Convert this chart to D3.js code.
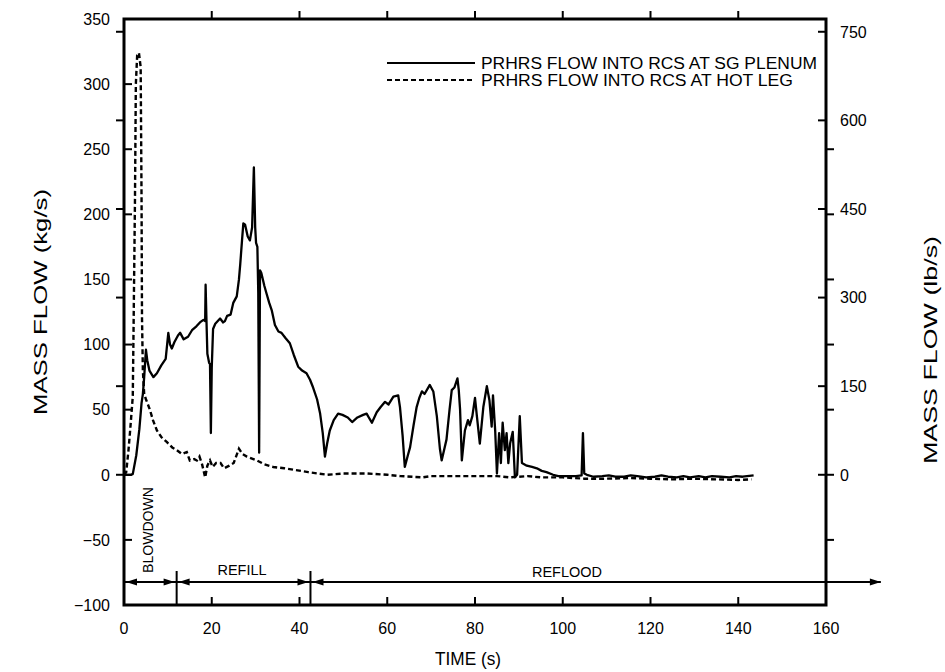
<!DOCTYPE html>
<html>
<head>
<meta charset="utf-8">
<script src="https://cdn.jsdelivr.net/npm/d3@7"></script>
<style>
  body { margin: 0; background: #fff; }
  text { font-family: "Liberation Sans", Arial, sans-serif; fill: #000; }
</style>
</head>
<body>
<svg id="chart" width="945" height="672"></svg>
<script>
// SG plenum flow (kg/s) vs time (s)
const sgTime = [0,1.5,2.0,2.8,3.5,4.0,4.3,4.6,5.0,5.3,5.8,6.7,7.5,8.5,9.5,10.1,10.5,10.9,11.5,12.3,12.8,13.6,14.6,15.5,16.5,17.3,18.1,18.5,18.6,18.8,19.0,19.4,19.6,19.8,20.0,20.3,20.8,21.9,22.6,23.0,23.5,24.3,24.9,25.7,26.2,26.5,26.9,27.2,27.6,28.2,28.7,29.2,29.6,29.9,30.1,30.4,30.6,30.8,31.0,31.3,32.0,32.5,33.1,33.7,34.4,35.2,35.9,36.8,37.8,38.7,39.7,40.6,41.6,42.4,43.1,44.0,44.7,45.3,45.8,46.3,46.9,47.8,48.8,49.8,51.0,52.0,53.2,54.5,55.3,55.8,56.5,57.6,58.5,59.5,60.3,61.4,62.5,62.9,63.5,64.0,64.7,65.2,66.0,66.7,67.3,67.9,68.5,69.7,70.5,71.3,72.0,72.4,73.5,74.2,74.7,75.3,76.0,76.3,76.6,77.0,77.7,78.4,78.8,79.4,80.0,80.4,81.1,81.5,81.9,82.7,83.3,83.8,84.1,84.6,85.0,85.5,85.9,86.3,86.8,87.2,87.6,88.0,88.6,89.1,89.6,90.2,90.7,91.8,93.0,94.1,95.2,96.3,97.8,99,101,103,104.3,104.6,104.9,105.5,107,109,110.5,112,114,115.5,117,119,121,122.5,124,126,127.5,129,131,132.5,134,136,138,139.5,141,143.5];
const sgFlow = [0,0,0.5,15,35,55,62,75,96,88,80,75,78,84,89,109,100,97,102,107,109,104,106,111,114,117,119,118,146,118,93,86,85,32,82,112,116,120,117,118,122,123,132,137,150,162,180,193,192,183,180,190,236,190,178,175,140,17,157,155,145,139,132,126,115,110,109,105,101,92,83,80,78,73,67,58,47,32,14,24,34,42,47,46,44,40.5,44,46,47,44,40,48,52,56,54,60,61,52,30,6,15,21,38,52,59,64,62,69,64,45,20,11,27,50,65,67,74,65,50,11,34,42,38,45,59,46,24,38,52,68,57,37,61,34,1,32,9,40,19,32,9,24,33,-2,0,45,9,7,6,5,3,2,0,-1,-1,-1,-0.5,32,1,0,-1.5,-1,-0.5,-1.5,-1.5,-0.5,-1,-2,-1.5,-0.5,-1.5,-2,-1,-2,-1,-2,-1,-1.5,-2,-1,-1.5,-0.5];

// hot leg flow (kg/s) vs time (s)
const hlTime = [0,0.5,1.0,1.4,2.0,2.2,2.5,2.7,3.0,3.4,3.8,4.0,4.1,4.3,4.6,5.0,5.9,6.6,7.5,8.5,9.8,11.0,12.0,13.2,14.3,15.0,16.0,16.6,17.2,17.8,18.5,19.0,19.6,20.2,21.0,22.0,22.8,24.0,25.0,26.2,27.0,28.0,30.3,32.0,34.0,36.5,38.5,42,46.3,50,55.4,60,63,68,70,75,80,85,88,92,95,100,105,110,115,120,125,130,135,140,143];
const hlFlow = [0,2,18,34,60,119,211,300,322,324,313,211,121,80,62,58,50,42,34,29,25,21,19,16,17.5,11,12,11,14,8,-2,7,11,6,9,9,5,7,9,20,16,14,11,8,6,5,4,2,0,1,1,0,-1,-2,-1,-1,-1,-1,-2,-1,-2,-2,-3,-3,-2.5,-3,-3.5,-3,-3.5,-4,-3.5];

const xTicks = [0,20,40,60,80,100,120,140,160];
const kgTicks = [-100,-50,0,50,100,150,200,250,300,350];
const lbTicks = [0,150,300,450,600,750];
const legendNames = ['PRHRS FLOW INTO RCS AT SG PLENUM', 'PRHRS FLOW INTO RCS AT HOT LEG'];
const phaseNames = ['BLOWDOWN', 'REFILL', 'REFLOOD'];
const phaseBounds = [0, 12, 42.5, 172.5];

const KG_PER_LB = 0.45359;
const plotL = 124, plotR = 826, plotT = 19, plotB = 605;

const svg = d3.select('#chart');
const x = d3.scaleLinear().domain([0, 160]).range([plotL, plotR]);
const y = d3.scaleLinear().domain([-100, 350]).range([plotB, plotT]);
const yLb = d3.scaleLinear().domain([-100 / KG_PER_LB, 350 / KG_PER_LB]).range([plotB, plotT]);

const g = svg.append('g');

// tick marks: kg inward / lb outward on the left, the other way on the right
function ticks(vals, scale, x0, len) {
  g.selectAll(null).data(vals).enter().append('line')
    .attr('x1', x0).attr('x2', x0 + len)
    .attr('y1', d => scale(d)).attr('y2', d => scale(d))
    .attr('stroke', '#000').attr('stroke-width', 2);
}
ticks(kgTicks.slice(1, -1), y, plotL, 8);
ticks(lbTicks, yLb, plotL, -8);
ticks(lbTicks, yLb, plotR, -8);
ticks(kgTicks.slice(1, -2), y, plotR, 8);

g.selectAll(null).data(xTicks.slice(1, -1)).enter().append('line')
  .attr('x1', d => x(d)).attr('x2', d => x(d))
  .attr('y1', plotB).attr('y2', plotB - 8)
  .attr('stroke', '#000').attr('stroke-width', 2);
g.selectAll(null).data(xTicks.slice(1, -1)).enter().append('line')
  .attr('x1', d => x(d)).attr('x2', d => x(d))
  .attr('y1', plotT).attr('y2', plotT - 8)
  .attr('stroke', '#000').attr('stroke-width', 2);

// frame
g.append('rect')
  .attr('x', plotL).attr('y', plotT)
  .attr('width', plotR - plotL).attr('height', plotB - plotT)
  .attr('fill', 'none').attr('stroke', '#000').attr('stroke-width', 3);

// tick labels
g.selectAll(null).data(kgTicks).enter().append('text')
  .attr('x', plotL - 14).attr('y', d => y(d)).attr('dy', '0.36em')
  .attr('text-anchor', 'end').attr('font-size', 16)
  .text(d => d < 0 ? '\u2212' + Math.abs(d) : d);
g.selectAll(null).data(lbTicks).enter().append('text')
  .attr('x', plotR + 14).attr('y', d => yLb(d)).attr('dy', '0.36em')
  .attr('font-size', 16)
  .text(d => d);
g.selectAll(null).data(xTicks).enter().append('text')
  .attr('x', d => x(d)).attr('y', plotB + 29)
  .attr('text-anchor', 'middle').attr('font-size', 16)
  .text(d => d);

// axis titles
g.append('text')
  .attr('transform', 'translate(47,302) rotate(-90)')
  .attr('text-anchor', 'middle').attr('font-size', 19)
  .attr('textLength', 226).attr('lengthAdjust', 'spacingAndGlyphs')
  .text('MASS FLOW (kg/s)');
g.append('text')
  .attr('transform', 'translate(937,350) rotate(-90)')
  .attr('text-anchor', 'middle').attr('font-size', 19)
  .attr('textLength', 228).attr('lengthAdjust', 'spacingAndGlyphs')
  .text('MASS FLOW (lb/s)');
g.append('text')
  .attr('x', 468).attr('y', 665)
  .attr('text-anchor', 'middle').attr('font-size', 19)
  .attr('textLength', 66).attr('lengthAdjust', 'spacingAndGlyphs')
  .text('TIME (s)');

// curves
const line = d3.line().x(d => x(d[0])).y(d => y(d[1]));
g.append('path')
  .attr('d', line(d3.zip(sgTime, sgFlow)))
  .attr('fill', 'none').attr('stroke', '#000').attr('stroke-width', 2.3)
  .attr('stroke-linejoin', 'round');
g.append('path')
  .attr('d', line(d3.zip(hlTime, hlFlow)))
  .attr('fill', 'none').attr('stroke', '#000').attr('stroke-width', 2.4)
  .attr('stroke-dasharray', '5,3');

// legend
const dashes = ['none', '5,3'];
legendNames.forEach(function (name, i) {
  const ly = 63 + i * 17;
  g.append('line')
    .attr('x1', 387).attr('x2', 475).attr('y1', ly).attr('y2', ly)
    .attr('stroke', '#000').attr('stroke-width', 2)
    .attr('stroke-dasharray', dashes[i]);
  g.append('text')
    .attr('x', 481).attr('y', ly).attr('dy', '0.36em')
    .attr('font-size', 16)
    .attr('textLength', i === 0 ? 336 : 312).attr('lengthAdjust', 'spacingAndGlyphs')
    .text(name);
});

// phase arrows
const ay = 582;
g.append('line')
  .attr('x1', x(phaseBounds[0])).attr('x2', x(phaseBounds[3]))
  .attr('y1', ay).attr('y2', ay)
  .attr('stroke', '#000').attr('stroke-width', 1.8);
[phaseBounds[1], phaseBounds[2]].forEach(function (t) {
  g.append('line')
    .attr('x1', x(t)).attr('x2', x(t))
    .attr('y1', ay - 11).attr('y2', plotB)
    .attr('stroke', '#000').attr('stroke-width', 2);
});
function arrow(tip, dir) {
  g.append('path')
    .attr('d', `M${tip},${ay} L${tip - dir * 11},${ay - 3.5} L${tip - dir * 11},${ay + 3.5} Z`)
    .attr('fill', '#000');
}
arrow(x(phaseBounds[0]) + 2, -1);
arrow(x(phaseBounds[1]) - 2, 1);
arrow(x(phaseBounds[1]) + 2, -1);
arrow(x(phaseBounds[2]) - 2, 1);
arrow(x(phaseBounds[2]) + 2, -1);
arrow(x(phaseBounds[3]), 1);

g.append('text')
  .attr('transform', 'translate(' + (x(phaseBounds[0]) + 29) + ',530) rotate(-90)')
  .attr('text-anchor', 'middle').attr('font-size', 15)
  .attr('textLength', 86).attr('lengthAdjust', 'spacingAndGlyphs')
  .text(phaseNames[0]);
g.append('text')
  .attr('x', 242).attr('y', 575)
  .attr('text-anchor', 'middle').attr('font-size', 15)
  .attr('textLength', 49).attr('lengthAdjust', 'spacingAndGlyphs')
  .text(phaseNames[1]);
g.append('text')
  .attr('x', 567).attr('y', 577)
  .attr('text-anchor', 'middle').attr('font-size', 15)
  .attr('textLength', 70).attr('lengthAdjust', 'spacingAndGlyphs')
  .text(phaseNames[2]);
</script>
</body>
</html>
